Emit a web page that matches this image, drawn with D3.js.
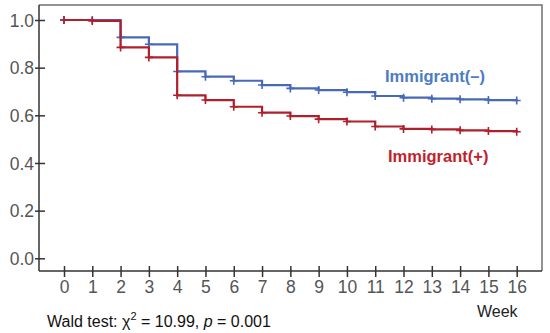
<!DOCTYPE html>
<html>
<head>
<meta charset="utf-8">
<script src="https://cdn.jsdelivr.net/npm/d3@7"></script>
<style>
  body { margin: 0; background: #fff; }
  svg { display: block; font-family: Arial, "Liberation Sans", sans-serif; }
</style>
</head>
<body>
<svg id="chart" width="550" height="333"></svg>
<script>
// weeks and survival estimates
const weeks = [0, 1, 2, 3, 4, 5, 6, 7, 8, 9, 10, 11, 12, 13, 14, 15, 16];
const immigrantNeg = [1.0, 1.0, 0.927, 0.898, 0.784, 0.762, 0.745, 0.727, 0.713, 0.706, 0.697, 0.681, 0.674, 0.670, 0.667, 0.664, 0.662];
const immigrantPos = [1.0, 0.996, 0.885, 0.843, 0.684, 0.664, 0.636, 0.611, 0.597, 0.584, 0.574, 0.553, 0.543, 0.541, 0.537, 0.534, 0.531];
const yTicks = [0.0, 0.2, 0.4, 0.6, 0.8, 1.0];

const svg = d3.select("#chart");
const frameLeft = 39, frameRight = 542, frameTop = 5, frameBottom = 271;

let x = d3.scaleLinear().domain([0, 16]).range([64, 516.7]);
let y = d3.scaleLinear().domain([0, 1]).range([258.3, 20]);

// top and right frame
svg.append("path")
    .attr("d", "M" + frameLeft + "," + frameTop + "H" + frameRight + "V" + frameBottom)
    .attr("fill", "none")
    .attr("stroke", "#707070")
    .attr("stroke-width", 1.5);

// y axis
let yAxis = svg.append("g")
    .attr("transform", "translate(" + frameLeft + ",0)")
    .call(d3.axisLeft(y).tickValues(yTicks).tickFormat(d3.format(".1f")).tickSizeInner(4).tickSizeOuter(0));
yAxis.select(".domain").attr("d", "M0," + frameTop + "V" + frameBottom);
yAxis.selectAll(".tick line").attr("x2", 6).attr("x1", -4);

// x axis
let xAxis = svg.append("g")
    .attr("transform", "translate(0," + frameBottom + ")")
    .call(d3.axisBottom(x).tickValues(weeks).tickFormat(d3.format("d")).tickSizeInner(5).tickSizeOuter(0));
xAxis.select(".domain").attr("d", "M" + frameLeft + ",0H" + frameRight);
xAxis.selectAll(".tick line").attr("y1", -5).attr("y2", 6);

svg.selectAll(".domain, .tick line")
    .attr("stroke", "#333")
    .attr("stroke-width", 1.5);
yAxis.selectAll("text").attr("x", -5).attr("dy", "0.35em");
xAxis.selectAll("text").attr("y", 10).attr("dy", "0.71em");
svg.selectAll(".tick text")
    .attr("fill", "#555")
    .style("font-size", "17.5px")
    .style("font-family", "Arial, 'Liberation Sans', sans-serif");

// step curves with censor marks
function drawSeries(values, color) {
    let pts = weeks.map(function(w, i) { return [w, values[i]]; });
    let line = d3.line()
        .x(function(d) { return x(d[0]); })
        .y(function(d) { return y(d[1]); })
        .curve(d3.curveStepAfter);
    svg.append("path")
        .datum(pts)
        .attr("d", line)
        .attr("fill", "none")
        .attr("stroke", color)
        .attr("stroke-width", 2.2);
    svg.append("g").selectAll("path")
        .data(pts)
        .enter().append("path")
        .attr("d", function(d) {
            let cx = x(d[0]), cy = y(d[1]);
            return "M" + (cx - 4) + "," + cy + "H" + (cx + 4) + "M" + cx + "," + (cy - 4) + "V" + (cy + 4);
        })
        .attr("stroke", color)
        .attr("stroke-width", 1.6);
}
drawSeries(immigrantNeg, "#4868b8");
drawSeries(immigrantPos, "#b01f2c");

// series labels
svg.append("text")
    .attr("x", 385).attr("y", 82)
    .attr("fill", "#4c7cc4")
    .style("font-size", "16.5px").style("font-weight", "bold")
    .text("Immigrant(\u2013)");
svg.append("text")
    .attr("x", 388).attr("y", 162)
    .attr("fill", "#c01f2b")
    .style("font-size", "16.5px").style("font-weight", "bold")
    .text("Immigrant(+)");

svg.append("text")
    .attr("x", 477).attr("y", 317)
    .attr("fill", "#222")
    .style("font-size", "16px")
    .text("Week");

let wald = svg.append("text")
    .attr("x", 47).attr("y", 327)
    .attr("fill", "#111")
    .style("font-size", "16px");
wald.append("tspan").text("Wald test: \u03C7");
wald.append("tspan").attr("dy", -7).style("font-size", "11px").text("2");
wald.append("tspan").attr("dy", 7).text(" = 10.99, ");
wald.append("tspan").style("font-style", "italic").text("p");
wald.append("tspan").text(" = 0.001");
</script>
</body>
</html>
